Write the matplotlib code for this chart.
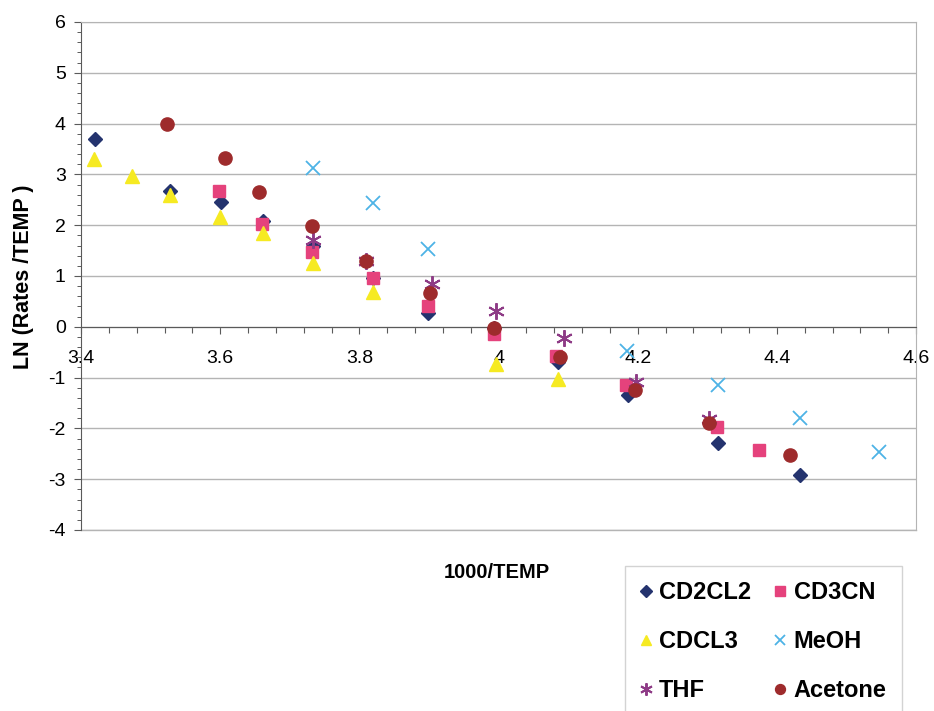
import matplotlib
matplotlib.use("Agg")
import matplotlib.pyplot as plt
from matplotlib.ticker import MultipleLocator, FixedLocator

plt.rcParams['font.family'] = ['Liberation Sans', 'DejaVu Sans']
plt.rcParams['axes.unicode_minus'] = False

# 1000/T (x) and ln(rate/T) (y) for each solvent
cd2cl2_x = [3.420, 3.528, 3.601, 3.662, 3.734, 3.820, 3.898, 3.993, 4.085, 4.186, 4.315, 4.433]
cd2cl2_y = [3.69, 2.67, 2.45, 2.08, 1.59, 0.96, 0.28, -0.03, -0.69, -1.34, -2.28, -2.92]

cd3cn_x = [3.599, 3.660, 3.732, 3.820, 3.898, 3.994, 4.083, 4.183, 4.314, 4.374]
cd3cn_y = [2.67, 2.02, 1.47, 0.96, 0.40, -0.14, -0.57, -1.14, -1.98, -2.42]

cdcl3_x = [3.419, 3.473, 3.528, 3.600, 3.662, 3.734, 3.820, 3.996, 4.085]
cdcl3_y = [3.31, 2.96, 2.59, 2.16, 1.84, 1.25, 0.69, -0.73, -1.02]

meoh_x = [3.734, 3.820, 3.898, 4.184, 4.315, 4.433, 4.547]
meoh_y = [3.12, 2.43, 1.53, -0.47, -1.14, -1.80, -2.47]

thf_x = [3.734, 3.810, 3.905, 3.996, 4.094, 4.197, 4.302]
thf_y = [1.71, 1.29, 0.84, 0.31, -0.23, -1.08, -1.82]

acetone_x = [3.524, 3.607, 3.656, 3.732, 3.810, 3.902, 3.993, 4.089, 4.196, 4.302, 4.419]
acetone_y = [3.99, 3.33, 2.65, 1.98, 1.29, 0.67, -0.02, -0.60, -1.24, -1.90, -2.52]

y_ticks = [-4, -3, -2, -1, 0, 1, 2, 3, 4, 5, 6]
x_ticks = [3.4, 3.6, 3.8, 4.0, 4.2, 4.4, 4.6]
x_tick_labels = ["3.4", "3.6", "3.8", "4", "4.2", "4.4", "4.6"]

W, H = 934, 711
fig = plt.figure(figsize=(W / 100, H / 100), dpi=100)
ax = fig.add_axes([81 / W, 1 - 530 / H, (916 - 81) / W, (530 - 22) / H])

grid_c = '#B4B4B4'
axis_c = '#5A5A5A'

ax.set_xlim(3.4, 4.6)
ax.set_ylim(-4, 6)

# horizontal gridlines
ax.yaxis.set_major_locator(FixedLocator(y_ticks))
ax.yaxis.set_minor_locator(MultipleLocator(0.2))
ax.grid(axis='y', which='major', color=grid_c, linewidth=1.0, zorder=0)
ax.set_axisbelow(True)

# x axis crosses at y = 0
ax.spines['bottom'].set_position(('data', 0))
ax.spines['bottom'].set_color(axis_c)
ax.spines['left'].set_color(axis_c)
ax.spines['top'].set_color(grid_c)
ax.spines['right'].set_color(grid_c)
ax.axhline(-4, color=grid_c, linewidth=1.0, zorder=0, clip_on=False)

ax.xaxis.set_major_locator(FixedLocator(x_ticks))
ax.set_xticklabels(x_tick_labels)
ax.xaxis.set_minor_locator(MultipleLocator(0.04))
ax.tick_params(axis='x', which='major', direction='out', length=5, width=0.8,
               color=axis_c, labelsize=14, pad=12)
ax.tick_params(axis='x', which='minor', direction='out', length=4, width=0.8, color=axis_c)
ax.tick_params(axis='y', which='major', direction='out', length=5, width=0.8,
               color=axis_c, labelsize=14, pad=6)
ax.tick_params(axis='y', which='minor', direction='out', length=3, width=0.7, color=axis_c)

fig.text(24 / W, 1 - 277 / H, "LN (Rates /TEMP )", rotation=90, ha='center', va='center',
         fontsize=15.5, fontweight='bold')
fig.text(497 / W, 1 - 573 / H, "1000/TEMP", ha='center', va='center',
         fontsize=14.5, fontweight='bold')

h1, = ax.plot(cd2cl2_x, cd2cl2_y, linestyle='none', marker='D', markersize=7.5,
              color='#24336E', label='CD2CL2', zorder=3)
h2, = ax.plot(cd3cn_x, cd3cn_y, linestyle='none', marker='s', markersize=9,
              color='#E5427C', label='CD3CN', zorder=3)
h3, = ax.plot(cdcl3_x, cdcl3_y, linestyle='none', marker='^', markersize=10,
              color='#F6EA22', label='CDCL3', zorder=3)
h4, = ax.plot(meoh_x, meoh_y, linestyle='none', marker='x', markersize=10,
              markeredgewidth=1.3, color='#4DB3E6', label='MeOH', zorder=3)
h5, = ax.plot(thf_x, thf_y, linestyle='none', marker=(6, 2, 0), markersize=12,
              markeredgewidth=1.4, color='#8E3B86', label='THF', zorder=3)
h6, = ax.plot(acetone_x, acetone_y, linestyle='none', marker='o', markersize=9.5,
              color='#9E2B2C', label='Acetone', zorder=3)

leg = fig.legend(handles=[h1, h3, h5, h2, h4, h6],
                 labels=['CD2CL2', 'CDCL3', 'THF', 'CD3CN', 'MeOH', 'Acetone'],
                 ncol=2, loc='upper left', bbox_to_anchor=(625 / W, 1 - 566 / H),
                 frameon=True, fancybox=False, edgecolor='#C8C8C8',
                 prop={'size': 17, 'weight': 'bold'}, markerscale=0.75,
                 handlelength=0.45, handletextpad=0.35, columnspacing=1.0,
                 labelspacing=1.1, borderpad=0.65, borderaxespad=0)
leg.get_frame().set_linewidth(1.0)

fig.savefig("out.png", dpi=100, facecolor='white')
